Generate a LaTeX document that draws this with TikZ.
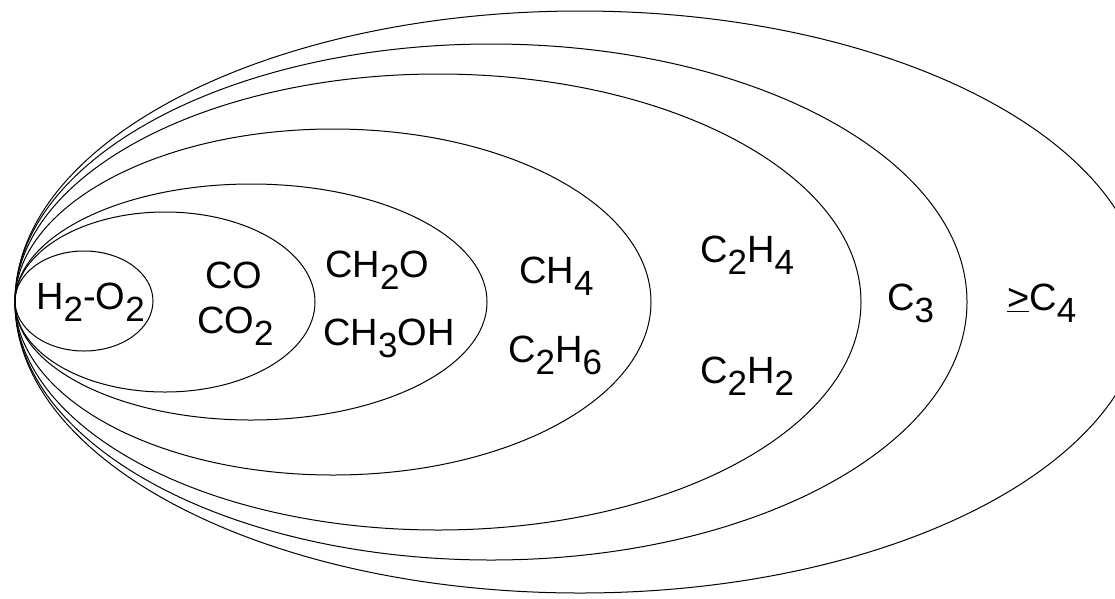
\documentclass[tikz,border=0pt]{standalone}
\usepackage{fontspec}
\setmainfont{Liberation Sans}
\usetikzlibrary{positioning}

% lowered subscript, nearly full size as in the original
\newcommand{\sbs}[1]{\raisebox{-0.33em}{\fontsize{35}{35}\selectfont #1}}

\begin{document}
\begin{tikzpicture}[x=1pt, y=-1pt,
    zone/.style={draw=black, line width=1pt},
    species/.style={font=\fontsize{38}{44}\selectfont, inner sep=0pt, anchor=base west}]
    \useasboundingbox (0,0) rectangle (1115,598);

    % Nested reaction classes, all touching at the left
    \draw[zone] (84, 301)  ellipse [x radius=69,  y radius=50];
    \draw[zone] (165, 302) ellipse [x radius=150, y radius=90];
    \draw[zone] (251, 302) ellipse [x radius=236, y radius=118];
    \draw[zone] (333, 302) ellipse [x radius=318, y radius=173];
    \draw[zone] (438, 302) ellipse [x radius=423, y radius=228];
    \draw[zone] (491, 302) ellipse [x radius=476, y radius=258];
    \draw[zone] (580, 302) ellipse [x radius=565, y radius=291];

    % Species in each shell
    \node[species] (h2o2) at (36, 309) {H\sbs{2}-O\sbs{2}};
    \node[species] (co) at (205, 288) {CO};
    \node[species] (co2) at (197, 333) {CO\sbs{2}};
    \node[species] (ch2o) at (325, 277) {CH\sbs{2}O};
    \node[species] (ch3oh) at (323, 345) {CH\sbs{3}OH};
    \node[species] (ch4) at (519, 283) {CH\sbs{4}};
    \node[species] (c2h6) at (508, 362) {C\sbs{2}H\sbs{6}};
    \node[species] (c2h4) at (700, 262) {C\sbs{2}H\sbs{4}};
    \node[species] (c2h2) at (700, 383) {C\sbs{2}H\sbs{2}};
    \node[species] (c3) at (887, 310) {C\sbs{3}};
    \node[species] (c4) at (1007, 310) {\underline{>}C\sbs{4}};
\end{tikzpicture}
\end{document}
